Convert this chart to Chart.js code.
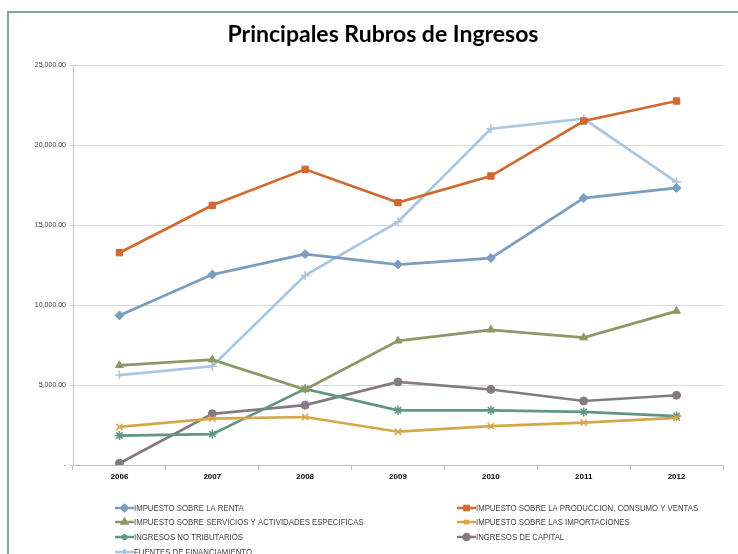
<!DOCTYPE html>
<html>
<head>
<meta charset="utf-8">
<script src="https://cdn.jsdelivr.net/npm/chart.js@4"></script>
<style>
  html, body { margin: 0; padding: 0; background: #fff; }
  #frame { position: absolute; left: 7px; top: 11px; width: 740px; height: 560px;
           border-left: 2px solid #7aaa9c; border-top: 2px solid #7aaa9c; }
  #wrap { position: absolute; left: 0; top: 0; width: 738px; height: 554px; }
</style>
</head>
<body>
<div id="frame"></div>
<div id="wrap"><canvas id="chart" width="738" height="554"></canvas></div>
<script>
const years = ['2006', '2007', '2008', '2009', '2010', '2011', '2012'];

const renta = [9350, 11900, 13180, 12530, 12930, 16680, 17320];
const produccion = [13270, 16230, 18480, 16400, 18060, 21500, 22750];
const servicios = [6230, 6580, 4720, 7760, 8450, 7960, 9620];
const importaciones = [2380, 2900, 3000, 2080, 2430, 2650, 2950];
const noTributarios = [1840, 1930, 4760, 3420, 3420, 3320, 3060];
const capital = [110, 3200, 3740, 5190, 4720, 4000, 4360];
const financiamiento = [5620, 6170, 11850, 15200, 21020, 21640, 17680];

const seriesNames = [
    'IMPUESTO SOBRE LA RENTA',
    'IMPUESTO SOBRE LA PRODUCCION, CONSUMO Y VENTAS',
    'IMPUESTO SOBRE SERVICIOS Y ACTIVIDADES ESPECIFICAS',
    'IMPUESTO SOBRE LAS IMPORTACIONES',
    'INGRESOS NO TRIBUTARIOS',
    'INGRESOS DE CAPITAL',
    'FUENTES DE FINANCIAMIENTO'
];
const seriesData = [renta, produccion, servicios, importaciones, noTributarios, capital, financiamiento];
const colors = ['#7a9ec1', '#d2692f', '#8d9867', '#d5a746', '#5f9685', '#857b7f', '#abc6e0'];
const markers = ['rectRot', 'rect', 'triangle', 'crossRot', 'star', 'circle', 'cross'];

const datasets = seriesNames.map((name, i) => ({
    label: name,
    data: seriesData[i],
    borderColor: colors[i],
    backgroundColor: colors[i],
    borderWidth: 2.7,
    pointStyle: markers[i],
    pointRadius: markers[i] === 'circle' ? 4 : 4.5,
    pointBorderWidth: (markers[i] === 'crossRot' || markers[i] === 'star' || markers[i] === 'cross') ? 1.5 : 1,
    tension: 0
}));

// title + two-column legend drawn by hand, Excel style
const decorations = {
    id: 'decorations',
    afterDraw(chart) {
        const ctx = chart.ctx;
        ctx.save();
        ctx.fillStyle = '#000';
        ctx.font = 'bold 23px Lato, "Liberation Sans", sans-serif';
        ctx.textAlign = 'center';
        ctx.textBaseline = 'middle';
        ctx.fillText('Principales Rubros de Ingresos', 383, 35);

        const colX = [115, 457];
        const rowY = [508, 522, 537, 552];
        ctx.font = '9.5px "Liberation Sans", sans-serif';
        ctx.textAlign = 'left';
        chart.data.datasets.forEach((ds, i) => {
            const x = colX[i % 2];
            const y = rowY[Math.floor(i / 2)];
            ctx.strokeStyle = ds.borderColor;
            ctx.lineWidth = 2.5;
            ctx.beginPath();
            ctx.moveTo(x, y);
            ctx.lineTo(x + 19, y);
            ctx.stroke();
            ctx.fillStyle = ds.backgroundColor;
            Chart.helpers.drawPoint(ctx, {
                pointStyle: ds.pointStyle, radius: 3, rotation: 0, borderWidth: 1
            }, x + 9.5, y);
            // condensed text like the original Calibri labels
            ctx.save();
            ctx.translate(x + 19, y + 0.5);
            ctx.scale(0.82, 1);
            ctx.fillStyle = '#404040';
            ctx.fillText(ds.label, 0, 0);
            ctx.restore();
        });
        ctx.restore();
    }
};

new Chart(document.getElementById('chart').getContext('2d'), {
    type: 'line',
    data: { labels: years, datasets: datasets },
    options: {
        responsive: false,
        animation: false,
        layout: { padding: { top: 65, right: 15, bottom: 69, left: 0 } },
        plugins: {
            legend: { display: false },
            title: { display: false },
            tooltip: { enabled: false }
        },
        scales: {
            x: {
                offset: true,
                grid: { drawOnChartArea: false, offset: true, tickLength: 5, color: '#bfbfbf' },
                border: { color: '#bfbfbf' },
                ticks: { color: '#000', font: { size: 8, weight: 'bold', family: '"Liberation Sans", sans-serif' }, padding: 2 },
                afterFit: s => { s.height = 20; }
            },
            y: {
                min: 0,
                max: 25000,
                ticks: {
                    stepSize: 5000,
                    color: '#404040',
                    padding: 3,
                    font: { size: 7, family: '"Liberation Sans", sans-serif' },
                    callback: v => v === 0 ? '-' : v.toLocaleString('en-US', { minimumFractionDigits: 2 })
                },
                grid: { color: '#d9d9d9', tickLength: 4 },
                border: { color: '#bfbfbf' },
                afterFit: s => { s.width = 73; }
            }
        }
    },
    plugins: [decorations]
});
</script>
</body>
</html>
